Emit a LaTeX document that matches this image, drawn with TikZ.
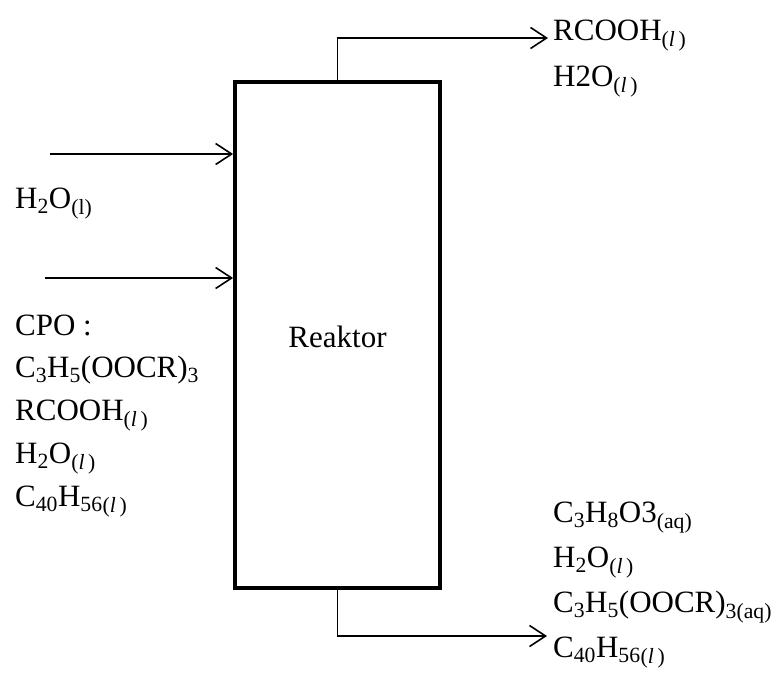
\documentclass[tikz,border=0pt]{standalone}
\usepackage{fontspec}
\setmainfont{Liberation Serif}
\usetikzlibrary{arrows.meta}
\newcommand{\liq}{\textsubscript{(\textit{l}\,)}}
\begin{document}
\begin{tikzpicture}[x=1pt,y=-1pt,
  lbl/.style={anchor=base west,inner sep=0pt,font=\fontsize{31}{37}\selectfont},
  flow/.style={line width=1.6pt,-{Straight Barb[length=16pt,width=21pt,line width=1.6pt]}},
  reactorbox/.style={draw,line width=3.8pt,minimum width=205pt,minimum height=506pt,inner sep=0pt,outer sep=1.9pt}]
\useasboundingbox (0,0) rectangle (776,673);
\node[reactorbox] (box) at (337.5,335) {};
\node[lbl,anchor=base] (rk) at (337.5,347) {Reaktor};
% inlets
\coordinate (i1) at (50,154);
\coordinate (i2) at (45,278);
\draw[flow] (i1) -- (i1 -| box.west);
\draw[flow] (i2) -- (i2 -| box.west);
% outlets
\coordinate (o1) at (548,38);
\coordinate (o2) at (547,636);
\draw[flow] (box.north) |- (o1);
\draw[flow] (box.south) |- (o2);
% top right labels
\node[lbl] (t1) at (553,40) {RCOOH\liq};
\node[lbl] (t2) at (553,86) {H2O\liq};
% left labels
\node[lbl] (w1) at (15,208) {H\textsubscript{2}O\textsubscript{(l)}};
\node[lbl] (c1) at (15,335) {CPO\ :};
\node[lbl] (c2) at (15,377) {C\textsubscript{3}H\textsubscript{5}(OOCR)\textsubscript{3}};
\node[lbl] (c3) at (15,420) {RCOOH\liq};
\node[lbl] (c4) at (15,463) {H\textsubscript{2}O\liq};
\node[lbl] (c5) at (15,506) {C\textsubscript{40}H\textsubscript{56}\liq};
% bottom right labels
\node[lbl] (b1) at (553,522) {C\textsubscript{3}H\textsubscript{8}O3\textsubscript{(aq)}};
\node[lbl] (b2) at (553,567) {H\textsubscript{2}O\liq};
\node[lbl] (b3) at (553,612) {C\textsubscript{3}H\textsubscript{5}(OOCR)\textsubscript{3(aq)}};
\node[lbl] (b4) at (553,657) {C\textsubscript{40}H\textsubscript{56}\liq};
\end{tikzpicture}
\end{document}
